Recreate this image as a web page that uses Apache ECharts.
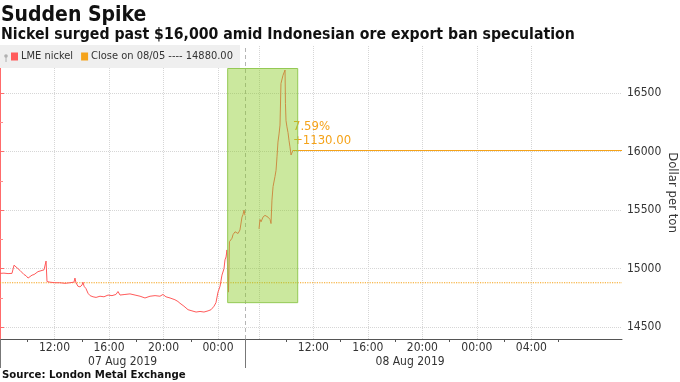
<!DOCTYPE html>
<html><head><meta charset="utf-8">
<script src="https://cdn.jsdelivr.net/npm/echarts@6/dist/echarts.min.js"></script>
<style>html,body{margin:0;padding:0;background:#fff}#c{width:680px;height:382px}</style>
</head><body><div id="c"></div>
<script>
// trading-time axis position (hours since 08:00, 07 Aug; overnight break compressed)
const timeT = [0,0.29,0.59,0.88,0.99,1.03,1.17,1.32,1.47,1.61,1.76,1.91,2.06,2.20,2.35,2.50,2.64,2.79,2.94,3.08,3.23,3.34,3.38,3.45,3.67,4.04,4.40,4.77,5.14,5.43,5.50,5.58,5.72,5.87,6.02,6.09,6.17,6.31,6.46,6.61,6.83,7.05,7.34,7.63,7.93,8.22,8.51,8.66,8.81,9.17,9.54,9.91,10.28,10.64,11.01,11.38,11.74,11.96,12.18,12.48,12.84,13.06,13.21,13.50,13.80,14.09,14.39,14.68,14.97,15.27,15.49,15.71,15.85,16.00,16.15,16.29,16.44,16.51,16.59,16.66,16.77,16.84,17.03,17.10,17.25,17.32,17.47,17.61,17.69,17.76,17.83,17.91,17.98,18.5,19.01,19.08,19.16,19.30,19.45,19.52,19.67,19.82,19.89,19.96,20.04,20.18,20.26,20.33,20.40,20.48,20.55,20.62,20.70,20.77,20.84,20.92,20.95,20.99,21.06,21.14,21.21,21.28,21.36,21.43,21.50];
const price = [14960,14962,14958,14960,14962,15030,15020,15000,14985,14975,14950,14940,14920,14930,14945,14950,14960,14975,14980,14985,14990,15000,15065,14890,14885,14880,14880,14875,14880,14885,14920,14880,14850,14845,14860,14885,14850,14830,14790,14770,14760,14755,14765,14760,14775,14770,14780,14805,14775,14780,14785,14775,14765,14750,14765,14770,14765,14780,14760,14750,14735,14720,14705,14680,14650,14640,14630,14635,14630,14640,14650,14680,14710,14800,14850,14945,15000,15075,15100,15160,14800,15230,15260,15290,15315,15300,15300,15330,15345,15440,15460,15500,15455,null,15340,15420,15400,15440,15455,15470,15440,15420,15385,15585,15700,15785,15840,15955,16080,16150,16225,16580,16595,16650,16665,16695,16410,16265,16210,16160,16095,16040,15970,15985,16010];
const closeValue = 14880;
const closeDate = '08/05';
const timeLabelPos = [4,8,12,16,23,27,31,35,39];
const timeLabels = ['12:00','16:00','20:00','00:00','12:00','16:00','20:00','00:00','04:00'];
const minorTickPos = [2,6,10,14,21,25,29,33,37,41];
const gridLinePos = [4,8,12,16,19,23,27,31,35,39];
const dayBoundaryPos = [0,18];
const dayLabelPos = [9.0,30.1];
const dayLabels = ['07 Aug 2019','08 Aug 2019'];
const yLabelValues = [14500,15000,15500,16000,16500];
const yMinorValues = [14750,15250,15750,16250,16750];
const highlightT = [16.71,21.85];
const highlightPrice = [14710,16708];
const xMin = 0, xMax = 45.65, yMin = 14400, yMax = 16900;

const FONT = "'DejaVu Sans Condensed','DejaVu Sans',sans-serif";
const RED = '#ff5a5a', ORANGE = '#f5a31a';
const lastT = timeT[timeT.length-1];
const lastValue = price[price.length-1];
const change = lastValue - closeValue;
const pct = (change/closeValue*100).toFixed(2) + '%';
const closeName = 'Close on ' + closeDate + ' ---- ' + closeValue.toFixed(2);
const pick = (arr, pos, v) => { let k=0,d=1e9; pos.forEach((p,i)=>{ if(Math.abs(p-v)<d){d=Math.abs(p-v);k=i;} }); return arr[k]; };

const chart = echarts.init(document.getElementById('c'), null, {renderer:'canvas'});
chart.setOption({
  animation:false,
  textStyle:{fontFamily:FONT},
  title:[
    {text:'Sudden Spike', left:1, top:5, padding:0, textStyle:{fontFamily:FONT,fontSize:21,fontWeight:'bold',color:'#111'}},
    {text:'Nickel surged past $16,000 amid Indonesian ore export ban speculation', left:1, top:27, padding:0, textStyle:{fontFamily:FONT,fontSize:15.7,fontWeight:'bold',color:'#111'}},
    {text:'Source: London Metal Exchange', left:2, top:370, padding:0, textStyle:{fontFamily:FONT,fontSize:11.3,fontWeight:'bold',color:'#111'}}
  ],
  legend:{
    left:0, top:45, orient:'horizontal', icon:'rect', itemWidth:7, itemHeight:8, itemGap:8,
    padding:[6,7,6,11], backgroundColor:'#efefef',
    textStyle:{fontFamily:FONT,fontSize:11,color:'#333',padding:[0,0,0,-2]},
    data:[{name:'LME nickel',itemStyle:{color:RED}},{name:closeName,itemStyle:{color:ORANGE}}],
    lineStyle:{width:0}
  },
  graphic:[
    {type:'circle', shape:{cx:6,cy:56,r:1.8}, style:{fill:'#b0b0b0'}, z:100},
    {type:'line', shape:{x1:6,y1:57,x2:6,y2:62}, style:{stroke:'#b0b0b0',lineWidth:1}, z:100}
  ],
  grid:{left:0, right:58, top:46, bottom:43, outerBoundsMode:'none', containLabel:false},
  xAxis:[
    {type:'value', min:xMin, max:xMax, position:'bottom',
     axisLine:{show:true,lineStyle:{color:'#555',width:1}},
     axisTick:{show:true,customValues:minorTickPos,length:3,lineStyle:{color:'#555'}},
     axisLabel:{customValues:timeLabelPos,formatter:v=>pick(timeLabels,timeLabelPos,v),fontFamily:FONT,fontSize:12,color:'#333',margin:3},
     splitLine:{show:false}},
    {type:'value', min:xMin, max:xMax, position:'bottom',
     axisLine:{show:false},
     axisTick:{show:true,customValues:dayBoundaryPos,length:29,lineStyle:{color:'#777'}},
     axisLabel:{customValues:dayLabelPos,formatter:v=>pick(dayLabels,dayLabelPos,v),fontFamily:FONT,fontSize:12,color:'#333',margin:17},
     splitLine:{show:false}}
  ],
  yAxis:[
    {type:'value', min:yMin, max:yMax, position:'right',
     name:'Dollar per ton', nameLocation:'middle', nameRotate:-90, nameGap:44, nameMoveOverlap:false,
     nameTextStyle:{fontFamily:FONT,fontSize:13,color:'#333'},
     axisLine:{show:true,lineStyle:{color:'#ff6b6b',width:1}},
     axisTick:{show:true,customValues:yLabelValues,length:4,lineStyle:{color:'#ff6b6b'}},
     axisLabel:{customValues:yLabelValues,formatter:v=>String(v),fontFamily:FONT,fontSize:12,color:'#333',margin:5},
     splitLine:{show:true,lineStyle:{color:'#d6d6d6',type:'dotted',width:1}}},
    {type:'value', min:yMin, max:yMax, position:'right',
     axisLine:{show:false},
     axisTick:{show:true,customValues:yMinorValues,length:3,lineStyle:{color:'#ff8a8a'}},
     axisLabel:{show:false}, splitLine:{show:false}}
  ],
  series:[
    {type:'line', name:'grid', data:[], z:1, silent:true,
     markLine:{silent:true, z:1, symbol:['none','none'], label:{show:false},
       data:gridLinePos.map(v=>({xAxis:v, lineStyle:{color:'#d6d6d6',type:'dotted',width:1}}))
         .concat([{xAxis:dayBoundaryPos[1], lineStyle:{color:'#b5b5b5',type:[4,3],width:1}}])}},
    {type:'line', name:closeName, data:[[xMin,closeValue],[xMax,closeValue]], z:2, showSymbol:false, symbol:'none',
     lineStyle:{color:ORANGE,type:'dotted',width:1.2}, itemStyle:{color:ORANGE}},
    {type:'line', name:'LME nickel', data:timeT.map((t,i)=>[t,price[i]]), z:3, showSymbol:false, symbol:'none',
     connectNulls:false, lineStyle:{color:RED,width:1}, itemStyle:{color:RED}},
    {type:'line', name:'last', data:[], z:4, silent:true,
     markLine:{silent:true, z:4, symbol:['none','none'],
       lineStyle:{color:ORANGE,type:'solid',width:1},
       label:{show:true, position:'insideStartTop', distance:[0,3], formatter:pct+'\n+'+change.toFixed(2),
              color:ORANGE, fontFamily:FONT, fontSize:13, lineHeight:14},
       data:[[{coord:[lastT,lastValue]},{coord:[xMax,lastValue]}]]}},
    {type:'line', name:'box', data:[], z:10, silent:true,
     markArea:{silent:true, z:10,
       itemStyle:{color:'rgba(140,205,40,0.45)',borderColor:'#94c955',borderWidth:1},
       data:[[{coord:[highlightT[0],highlightPrice[1]]},{coord:[highlightT[1],highlightPrice[0]]}]]}}
  ]
});
</script></body></html>
